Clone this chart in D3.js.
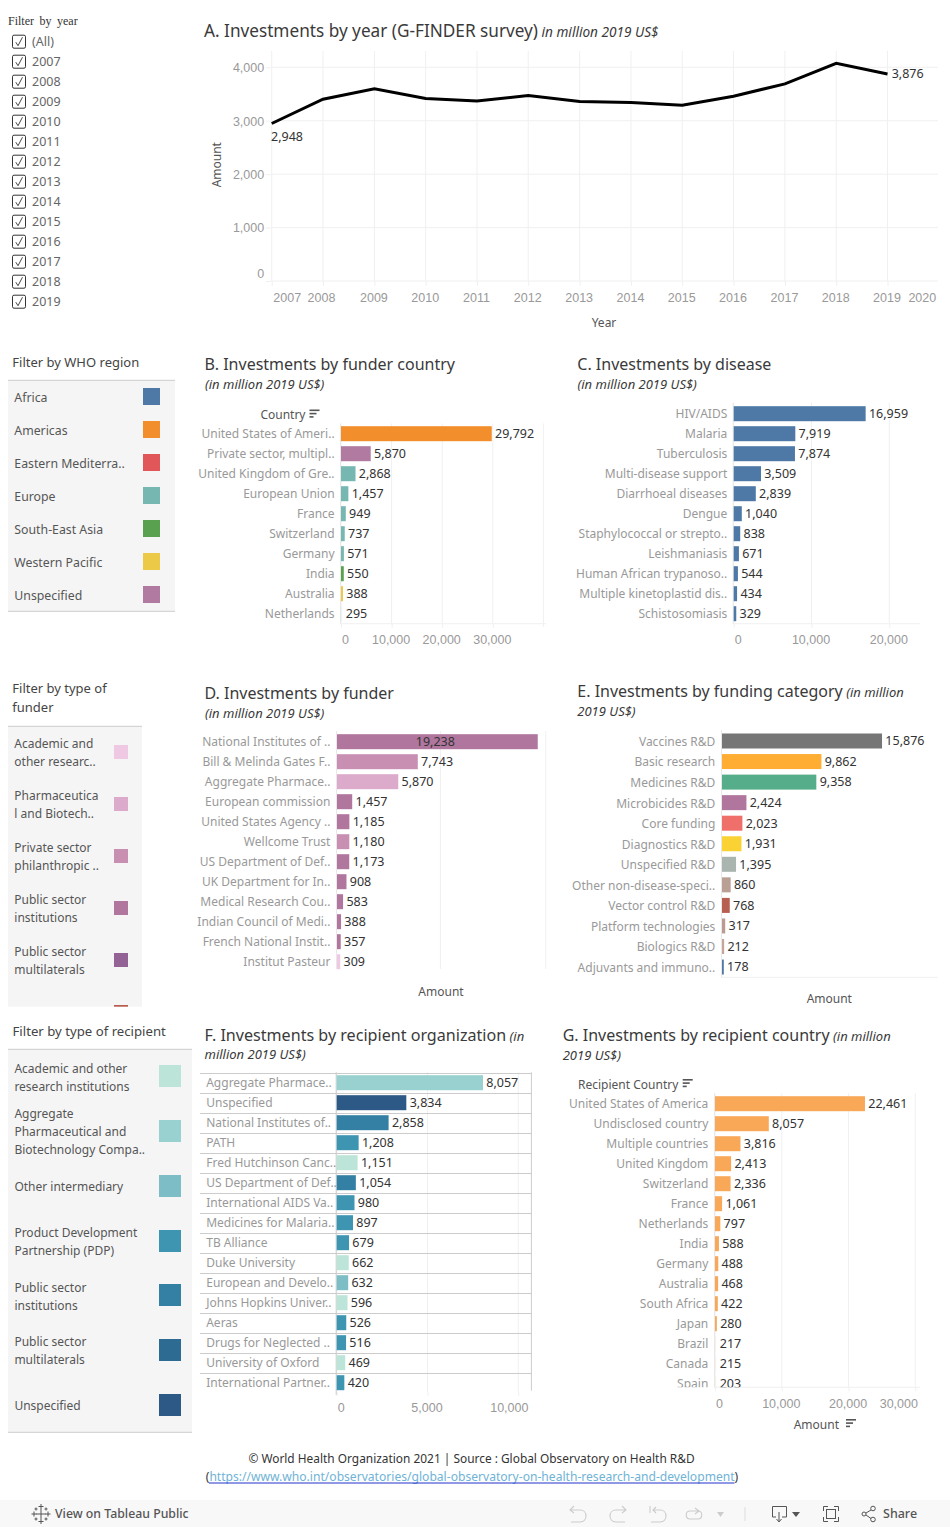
<!DOCTYPE html>
<html>
<head>
<meta charset="utf-8">
<script src="https://cdn.jsdelivr.net/npm/d3@7"></script>
<style>
html,body{margin:0;padding:0;background:#fff;}
svg{display:block;font-family:"Noto Sans",sans-serif;}
</style>
</head>
<body>
<div id="chart"></div>
<script>
// ---------- data ----------
const years = [2007,2008,2009,2010,2011,2012,2013,2014,2015,2016,2017,2018,2019];
const yearAmounts = [2948,3403,3600,3415,3370,3470,3358,3340,3290,3458,3690,4075,3876];
const axisYears = [2007,2008,2009,2010,2011,2012,2013,2014,2015,2016,2017,2018,2019,2020];
const yearFilterItems = ["(All)","2007","2008","2009","2010","2011","2012","2013","2014","2015","2016","2017","2018","2019"];

const whoRegions = ["Africa","Americas","Eastern Mediterra..","Europe","South-East Asia","Western Pacific","Unspecified"];
const whoColors = ["#4e79a7","#f28e2b","#e15759","#76b7b2","#59a14f","#edc948","#b07aa1"];

const funderCountries = ["United States of Ameri..","Private sector, multipl..","United Kingdom of Gre..","European Union","France","Switzerland","Germany","India","Australia","Netherlands"];
const funderCountryValues = [29792,5870,2868,1457,949,737,571,550,388,295];
const funderCountryRegions = ["Americas","Unspecified","Europe","Europe","Europe","Europe","Europe","South-East Asia","Western Pacific","Europe"];

const diseases = ["HIV/AIDS","Malaria","Tuberculosis","Multi-disease support","Diarrhoeal diseases","Dengue","Staphylococcal or strepto..","Leishmaniasis","Human African trypanoso..","Multiple kinetoplastid dis..","Schistosomiasis"];
const diseaseValues = [16959,7919,7874,3509,2839,1040,838,671,544,434,329];

const funders = ["National Institutes of ..","Bill & Melinda Gates F..","Aggregate Pharmace..","European commission","United States Agency ..","Wellcome Trust","US Department of Def..","UK Department for In..","Medical Research Cou..","Indian Council of Medi..","French National Instit..","Institut Pasteur"];
const funderValues = [19238,7743,5870,1457,1185,1180,1173,908,583,388,357,309];
const funderTypeOfRow = [3,2,1,3,3,2,3,3,3,3,3,0];
const funderTypeLines = [["Academic and","other researc.."],["Pharmaceutica","l and Biotech.."],["Private sector","philanthropic .."],["Public sector","institutions"],["Public sector","multilaterals"]];
const funderTypeColors = ["#efc9e4","#dcaaca","#c88fb3","#b0769e","#926394"];

const fundingCategories = ["Vaccines R&D","Basic research","Medicines R&D","Microbicides R&D","Core funding","Diagnostics R&D","Unspecified R&D","Other non-disease-speci..","Vector control R&D","Platform technologies","Biologics R&D","Adjuvants and immuno.."];
const fundingValues = [15876,9862,9358,2424,2023,1931,1395,860,768,317,212,178];
const fundingColors = ["#767676","#ffae33","#55ad89","#b0769e","#ef6f6a","#fbd233","#a9b5ae","#baa094","#b75f50","#bb9a93","#c8a59b","#4e79a7"];

const recipientOrgs = ["Aggregate Pharmace..","Unspecified","National Institutes of..","PATH","Fred Hutchinson Canc..","US Department of Def..","International AIDS Va..","Medicines for Malaria..","TB Alliance","Duke University","European and Develo..","Johns Hopkins Univer..","Aeras","Drugs for Neglected ..","University of Oxford","International Partner.."];
const recipientOrgValues = [8057,3834,2858,1208,1151,1054,980,897,679,662,632,596,526,516,469,420];
const recipientTypeOfRow = [1,6,4,3,0,4,3,3,3,0,2,0,3,3,0,3];
const recipientTypeLines = [["Academic and other","research institutions"],["Aggregate","Pharmaceutical and","Biotechnology Compa.."],["Other intermediary"],["Product Development","Partnership (PDP)"],["Public sector","institutions"],["Public sector","multilaterals"],["Unspecified"]];
const recipientTypeColors = ["#bce4d8","#98d1cf","#7dbdc6","#3d95b2","#3380a4","#2e6b93","#2c5985"];

const recipientCountries = ["United States of America","Undisclosed country","Multiple countries","United Kingdom","Switzerland","France","Netherlands","India","Germany","Australia","South Africa","Japan","Brazil","Canada","Spain"];
const recipientCountryValues = [22461,8057,3816,2413,2336,1061,797,588,488,468,422,280,217,215,203];

// ---------- helpers ----------
const fmt = d3.format(",");
const svg = d3.select("#chart").append("svg").attr("width",950).attr("height",1527);
const GRID = "#f0f0f0", CAT = "#999", VAL = "#333", TICK = "#999", TITLE = "#3a3a3a", LEG = "#555";
const FS = 12, NUM = 12.5;

function txt(x,y,s,o={}){
  const t = (o.g||svg).append("text").attr("x",x).attr("y",y).attr("dy",".35em")
    .attr("fill",o.fill||VAL).attr("font-size",o.size||FS)
    .attr("text-anchor",o.anchor||"start")
    .attr("font-style",o.italic?"italic":null)
    .attr("word-spacing",o.ws||null).text(s);
  if(o.family) t.style("font-family",o.family);
  return t;
}
function title(x,y,main,ital,y2,second,mainSize,italSize){
  const t = svg.append("text").attr("x",x).attr("y",y).attr("dy",".35em");
  t.append("tspan").attr("font-size",mainSize||16).attr("fill",TITLE).text(main);
  if(ital) t.append("tspan").attr("font-size",italSize||13).attr("font-style","italic").attr("fill",TITLE).text(" "+ital);
  if(second) txt(x,y2,second,{size:13,italic:true,fill:TITLE});
}
function sortIcon(x,y){
  [10,7,4].forEach((w,i)=>svg.append("rect").attr("x",x).attr("y",y+i*3.3).attr("width",w).attr("height",1.6).attr("fill","#555"));
}
function panel(x0,x1,y0,y1){
  svg.append("rect").attr("x",x0).attr("y",y0).attr("width",x1-x0).attr("height",y1-y0).attr("fill","#f5f5f5");
  svg.append("line").attr("x1",x0).attr("x2",x1).attr("y1",y0).attr("y2",y0).attr("stroke","#ccc").attr("stroke-width",1);
}

function barChart(c){
  const x = d3.scaleLinear().domain([0,c.dmax]).range([c.x0,c.x1]);
  const y = d3.scaleBand().domain(c.cats).range([c.first-c.step/2, c.first-c.step/2+c.step*c.cats.length]);
  // grid and value axis
  if(c.ticks){
    const ax = svg.append("g").attr("transform",`translate(0,${c.axisY})`)
      .call(d3.axisBottom(x).tickValues(c.ticks).tickSize(4).tickFormat(fmt));
    ax.select(".domain").remove();
    ax.selectAll("line").attr("stroke",GRID);
    ax.selectAll("text").attr("fill",TICK).attr("font-size",NUM).attr("y",null).attr("dy",".35em")
      .attr("transform",(d,i)=>`translate(${(c.tickShift&&c.tickShift[i])||0},${c.tickY-c.axisY})`);
    svg.append("g").selectAll("line").data(c.ticks).join("line")
      .attr("x1",x).attr("x2",x).attr("y1",c.top).attr("y2",c.axisY).attr("stroke",GRID);
    svg.append("line").attr("x1",c.x0-0.5).attr("x2",c.axisEnd).attr("y1",c.axisY).attr("y2",c.axisY).attr("stroke",GRID);
  }
  if(c.separators){
    svg.append("g").selectAll("line").data(c.cats).join("line")
      .attr("x1",c.sepX0).attr("x2",c.sepX1)
      .attr("y1",d=>Math.round(y(d))+0.5).attr("y2",d=>Math.round(y(d))+0.5).attr("stroke","#ccc");
    svg.append("line").attr("x1",c.sepX1).attr("x2",c.sepX1).attr("y1",c.top).attr("y2",c.sepBottom).attr("stroke","#ccc");
  }
  if(c.axisLine!==false) svg.append("line").attr("x1",c.x0-0.5).attr("x2",c.x0-0.5).attr("y1",c.top).attr("y2",c.axisY+(c.leftExtra||0))
      .attr("stroke",c.separators?"#ccc":"#e8e8e8");
  const g = c.clipId ? svg.append("g").attr("clip-path",`url(#${c.clipId})`) : svg.append("g");
  // category labels through the band axis
  const left = d3.axisLeft(y).tickSize(0).tickPadding(0);
  const la = g.append("g").attr("transform",`translate(${c.labelRight},${c.labelDy||0})`).call(left);
  la.select(".domain").remove();
  la.selectAll("text").attr("fill",CAT).attr("font-size",FS).attr("font-family",null).attr("dy",".35em").attr("x",0)
    .attr("text-anchor",c.labelLeft!==undefined?"start":"end");
  la.attr("font-family",null);
  if(c.labelLeft!==undefined) la.selectAll("text").attr("x",c.labelLeft-c.labelRight);
  // bars
  g.append("g").selectAll("rect").data(c.cats).join("rect")
    .attr("x",c.x0).attr("y",d=>y(d)+(c.step-15)/2)
    .attr("width",(d,i)=>Math.max(x(c.vals[i])-c.x0,0.8)).attr("height",15)
    .attr("fill",(d,i)=>c.color(i))
    .attr("opacity",(d,i)=>c.faint&&c.vals[i]<=c.faint?0.07:1);
  // values
  g.append("g").selectAll("text").data(c.cats).join("text")
    .attr("x",(d,i)=>c.inside&&c.vals[i]===c.inside?(x(c.vals[i])+c.x0)/2-2:Math.max(x(c.vals[i]),c.x0+1)+3.3)
    .attr("text-anchor",(d,i)=>c.inside&&c.vals[i]===c.inside?"middle":"start")
    .attr("y",d=>y(d)+c.step/2).attr("dy",".35em")
    .attr("fill",VAL).attr("font-size",NUM)
    .text((d,i)=>fmt(c.vals[i]));
}

// ---------- filter by year ----------
txt(8,21,"Filter by year",{size:12,family:'"Liberation Serif",serif',fill:"#333",ws:"2.5px"});
yearFilterItems.forEach((s,i)=>{
  const cy = 41.7+i*20;
  svg.append("rect").attr("x",12.5).attr("y",cy-6.5).attr("width",13).attr("height",13).attr("rx",1.5).attr("fill","#fff").attr("stroke","#333");
  svg.append("path").attr("d",`M15.8 ${cy+0.5}L18 ${cy+4}L22.5 ${cy-4.5}`).attr("fill","none").attr("stroke","#333").attr("stroke-width",0.9);
  txt(32,cy,s,{size:12.5,fill:"#666"});
});

// ---------- A: by year ----------
(function(){
  const parse = yr=>new Date(Date.UTC(yr,0,1));
  const x = d3.scaleUtc().domain([parse(2007),parse(2019)]).range([271.7,887.5]);
  const y = d3.scaleLinear().domain([0,4000]).range([281,67.3]);
  title(204,31,"A. Investments by year (G-FINDER survey)","in million 2019 US$",null,null,17.2,13.6);
  const gx = svg.append("g").attr("transform","translate(0,281)")
    .call(d3.axisBottom(x).tickValues(axisYears.map(parse)).tickSize(5).tickFormat(d3.utcFormat("%Y")));
  gx.select(".domain").remove();
  gx.selectAll("line").attr("stroke",GRID);
  gx.selectAll("text").attr("fill",TICK).attr("font-size",NUM).attr("y",null).attr("dy",".35em")
    .attr("transform",(d,i)=>`translate(${i===0?15:i===1?-2:i===13?-17:i===12?-1:-1},16.5)`);
  gx.selectAll("g.tick").filter((d,i)=>i===13).select("line").remove();
  const gy = svg.append("g").attr("transform","translate(271.7,0)")
    .call(d3.axisLeft(y).tickValues([0,1000,2000,3000,4000]).tickSize(6).tickFormat(fmt));
  gy.select(".domain").remove();
  gy.selectAll("line").attr("stroke",GRID);
  gy.selectAll("text").attr("fill",TICK).attr("font-size",NUM).attr("x",-7.5).attr("dy",".35em")
    .attr("transform",d=>d===0?"translate(0,-8)":null);
  svg.append("g").selectAll("line").data([1000,2000,3000,4000,0]).join("line")
    .attr("x1",271.7).attr("x2",938).attr("y1",y).attr("y2",y).attr("stroke",GRID);
  svg.append("g").selectAll("line").data(years).join("line")
    .attr("x1",d=>x(parse(d))).attr("x2",d=>x(parse(d))).attr("y1",51).attr("y2",281).attr("stroke",GRID);
  svg.append("path").datum(years.map((d,i)=>[x(parse(d)),y(yearAmounts[i])]))
    .attr("d",d3.line()).attr("fill","none").attr("stroke","#000").attr("stroke-width",3);
  txt(271,137,fmt(yearAmounts[0]),{fill:VAL,size:NUM});
  txt(891.7,74,fmt(yearAmounts[12]),{fill:VAL,size:NUM});
  txt(604,323,"Year",{anchor:"middle",fill:LEG});
  svg.append("text").attr("transform","translate(217,164.7) rotate(-90)").attr("dy",".35em").attr("text-anchor","middle")
    .attr("fill",LEG).attr("font-size",FS).text("Amount");
})();

// ---------- WHO legend ----------
txt(12.3,362.7,"Filter by WHO region",{size:13,fill:"#444"});
panel(8,175,380.3,611.3);
svg.append("line").attr("x1",8).attr("x2",175).attr("y1",611.3).attr("y2",611.3).attr("stroke","#ccc");
whoRegions.forEach((s,i)=>{
  txt(14.3,397.7+i*33,s,{fill:LEG,size:12.3});
  svg.append("rect").attr("x",143).attr("y",388+i*33).attr("width",17).attr("height",17).attr("fill",whoColors[i]);
});

// ---------- B ----------
title(204.5,364.3,"B. Investments by funder country");
txt(205,384.3,"(in million 2019 US$)",{size:13,italic:true,fill:TITLE});
txt(305.5,415,"Country",{anchor:"end",fill:LEG});
sortIcon(309.5,409.5);
barChart({cats:funderCountries,vals:funderCountryValues,color:i=>whoColors[whoRegions.indexOf(funderCountryRegions[i])],
  dmax:40000,x0:341,x1:543.4,first:433.7,step:20,top:423.5,axisY:623.7,axisEnd:546,labelRight:334.6,
  ticks:[0,10000,20000,30000],tickShift:[4,-1,-1,-1],tickY:639.7,faint:295});
svg.append("line").attr("x1",543.4).attr("x2",543.4).attr("y1",423.5).attr("y2",627).attr("stroke",GRID);

// ---------- C ----------
title(577.3,364.3,"C. Investments by disease");
txt(577.5,384.3,"(in million 2019 US$)",{size:13,italic:true,fill:TITLE});
barChart({cats:diseases,vals:diseaseValues,color:()=>"#4e79a7",
  dmax:20000,x0:733.7,x1:889.3,first:413.7,step:20,top:402.7,axisY:623.7,axisEnd:920,labelRight:727.3,
  ticks:[0,10000,20000],tickShift:[4,-1,-1],tickY:639.7});

// ---------- funder legend ----------
txt(12.3,688.3,"Filter by type of",{size:13,fill:"#444"});
txt(12.3,707,"funder",{size:13,fill:"#444"});
panel(8,142,726.3,1006.7);
funderTypeLines.forEach((lines,i)=>{
  lines.forEach((s,j)=>txt(14.3,743.7+i*52+j*18,s,{fill:LEG}));
  svg.append("rect").attr("x",114).attr("y",745+i*52).attr("width",14).attr("height",14).attr("fill",funderTypeColors[i]);
});
svg.append("rect").attr("x",114).attr("y",1005).attr("width",14).attr("height",1.7).attr("fill","#b85c50");

// ---------- D ----------
title(204.5,693.7,"D. Investments by funder");
txt(205,713.3,"(in million 2019 US$)",{size:13,italic:true,fill:TITLE});
svg.append("g").selectAll("line").data([440.4,545.7]).join("line")
  .attr("x1",d=>d).attr("x2",d=>d).attr("y1",731).attr("y2",969).attr("stroke",GRID);
barChart({cats:funders,vals:funderValues,color:i=>funderTypeColors[funderTypeOfRow[i]],
  dmax:20000,x0:337,x1:545.7,first:741.7,step:20,top:731,axisY:969,labelRight:330.4,inside:19238});
txt(441,992,"Amount",{anchor:"middle",fill:LEG});

// ---------- E ----------
title(577.3,691.7,"E. Investments by funding category","(in million",711.3,"2019 US$)");
svg.append("line").attr("x1",721.5).attr("x2",937.7).attr("y1",977.3).attr("y2",977.3).attr("stroke",GRID);
barChart({cats:fundingCategories,vals:fundingValues,color:i=>fundingColors[i],
  dmax:20000,x0:722,x1:923.6,first:741,step:20.55,top:730,axisY:977.3,labelRight:715.3,labelDy:0.7});
txt(829.3,999,"Amount",{anchor:"middle",fill:LEG});

// ---------- recipient legend ----------
txt(12.5,1031.7,"Filter by type of recipient",{size:13.2,fill:"#444"});
panel(8,192,1049.3,1432.3);
svg.append("line").attr("x1",8).attr("x2",192).attr("y1",1432.3).attr("y2",1432.3).attr("stroke","#ccc");
const recipientLineY = [[1068.7,1086.7],[1114,1131.7,1149.7],[1186.7],[1232.7,1250.7],[1287.7,1305.7],[1342,1360],[1405.7]];
const recipientSwatchY = [1065,1120,1175,1230,1284,1339,1394];
recipientTypeLines.forEach((lines,i)=>{
  lines.forEach((s,j)=>txt(14.4,recipientLineY[i][j],s,{fill:LEG}));
  svg.append("rect").attr("x",159).attr("y",recipientSwatchY[i]).attr("width",22).attr("height",22).attr("fill",recipientTypeColors[i]);
});

// ---------- F ----------
title(204.5,1035,"F. Investments by recipient organization","(in",1054.3,"million 2019 US$)",16.1);
barChart({cats:recipientOrgs,vals:recipientOrgValues,color:i=>recipientTypeColors[recipientTypeOfRow[i]],
  dmax:10000,x0:336.7,x1:518.3,first:1082.7,step:20,top:1072.3,axisY:1392,axisEnd:336.7,labelRight:334,labelLeft:206.2,
  ticks:[0,5000,10000],tickShift:[4,-1,-9.5],tickY:1407.7,separators:true,sepX0:200,sepX1:531.4,sepBottom:1390.7,leftExtra:3});

// ---------- G ----------
title(562.7,1035.7,"G. Investments by recipient country","(in million",1055,"2019 US$)");
txt(678.3,1084.7,"Recipient Country",{anchor:"end",fill:LEG});
sortIcon(682.7,1079);
const defs = svg.append("defs");
defs.append("clipPath").attr("id","clipG").append("rect").attr("x",550).attr("y",1090).attr("width",400).attr("height",297.3);
barChart({cats:recipientCountries,vals:recipientCountryValues,color:()=>"#f9a857",
  dmax:30000,x0:715,x1:915.3,first:1103.7,step:20,top:1093.3,axisY:1387.3,axisEnd:920,labelRight:708.3,
  ticks:[0,10000,20000,30000],tickShift:[4,-1,-1,-17],tickY:1403.7,clipId:"clipG",faint:217});
txt(839,1424.7,"Amount",{anchor:"end",fill:LEG});
sortIcon(846,1419);

// ---------- footer ----------
txt(471.5,1459,"© World Health Organization 2021 | Source : Global Observatory on Health R&D",{anchor:"middle",fill:"#333",size:11.9});
const foot = svg.append("text").attr("x",472).attr("y",1476.5).attr("dy",".35em").attr("text-anchor","middle").attr("font-size",12.1).attr("fill","#333");
foot.append("tspan").text("(");
foot.append("tspan").attr("fill","#6fb3d6").text("https://www.who.int/observatories/global-observatory-on-health-research-and-development");
foot.append("tspan").text(")");
svg.append("line").attr("x1",209).attr("x2",734.5).attr("y1",1483).attr("y2",1483).attr("stroke","#2233cc").attr("stroke-width",1);

// ---------- toolbar ----------
svg.append("rect").attr("x",0).attr("y",1500).attr("width",950).attr("height",27).attr("fill","#f8f8f8");
const tb = svg.append("g").attr("fill","none").attr("stroke","#ccc").attr("stroke-width",1.1);
tb.append("path").attr("d","M570 1510H580C588 1510 588 1522 580 1522H571M574 1506L570 1510L574 1513");
tb.append("path").attr("d","M626 1510H616C608 1510 608 1522 616 1522H625M622 1506L626 1510L622 1513");
tb.append("path").attr("d","M650 1506V1513M653 1510H660C668 1510 668 1522 660 1522H651M656 1507L653 1510L656 1513");
tb.append("path").attr("d","M690 1511H698C703 1511 703 1519 698 1519H690C685 1519 685 1511 690 1511M695 1508L699 1511L695 1514");
svg.append("path").attr("d","M717 1512H724L720.5 1517Z").attr("fill","#ccc");
svg.append("line").attr("x1",745).attr("x2",745).attr("y1",1507).attr("y2",1521).attr("stroke","#ddd");
const tb2 = svg.append("g").attr("fill","none").attr("stroke","#555").attr("stroke-width",1);
tb2.append("path").attr("d","M776 1517H772.5V1506.5H786.5V1517H782M779 1512V1521M776.5 1519L779 1522L781.5 1519");
svg.append("path").attr("d","M792 1512H800L796 1517Z").attr("fill","#555");
tb2.append("path").attr("d","M823.5 1511V1506.5H828M834 1506.5H838.5V1511M838.5 1517V1521.5H834M828 1521.5H823.5V1517");
tb2.append("rect").attr("x",826.5).attr("y",1509.5).attr("width",9).attr("height",9);
tb2.append("circle").attr("cx",864).attr("cy",1514).attr("r",2);
tb2.append("circle").attr("cx",873).attr("cy",1508.5).attr("r",2.3);
tb2.append("circle").attr("cx",873).attr("cy",1519.5).attr("r",2.3);
tb2.append("path").attr("d","M866 1513L871 1510M866 1515L871 1518.5");
txt(883,1514,"Share",{size:12.5,fill:"#555"}).attr("font-weight",500);
txt(55,1514,"View on Tableau Public",{size:12.3,fill:"#555"}).attr("font-weight",500);
const logo = svg.append("g").attr("stroke","#555").attr("stroke-width",1).attr("fill","none");
[[41,1514,5],[41,1506.5,2.5],[41,1521.5,2.5],[34,1514,2.5],[48,1514,2.5],[36,1509,1.5],[46,1509,1.5],[36,1519,1.5],[46,1519,1.5]].forEach(([cx,cy,r])=>{
  logo.append("path").attr("d",`M${cx-r} ${cy}H${cx+r}M${cx} ${cy-r}V${cy+r}`);
});
</script>
</body>
</html>
